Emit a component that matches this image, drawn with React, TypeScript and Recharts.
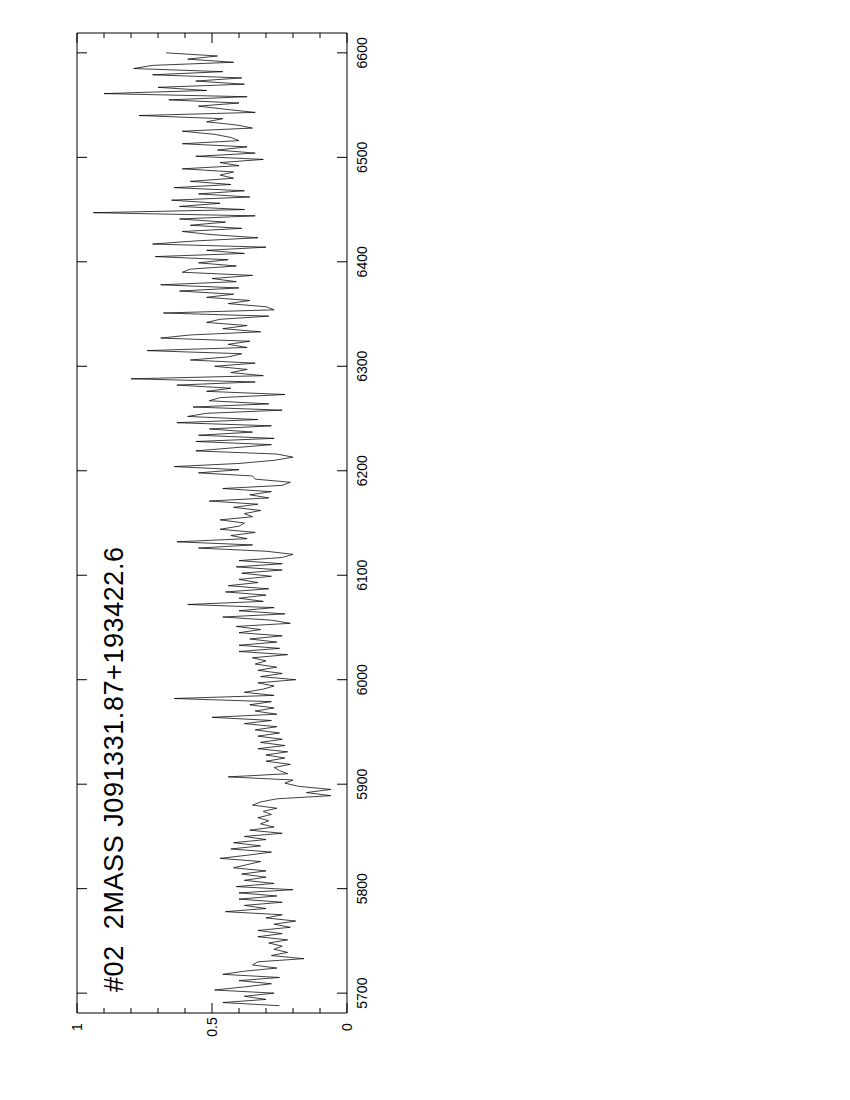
import React from "react";
import { LineChart, Line, XAxis, YAxis } from "recharts";

// Wavelength grid (Angstrom), descending from 6600 in 3 A steps
const WL_START = 6600;
const WL_STEP = 3;

// Normalised flux, from 6600 A down to 5688 A
const FLUX_6600_6519 = [
  0.67, 0.48, 0.59, 0.42, 0.72, 0.79, 0.46, 0.72, 0.39, 0.56,
  0.38, 0.7, 0.52, 0.9, 0.37, 0.66, 0.4, 0.55, 0.45, 0.34,
  0.77, 0.46, 0.52, 0.41, 0.35, 0.61, 0.49, 0.43,
];
const FLUX_6516_6417 = [
  0.4, 0.61, 0.37, 0.48, 0.34, 0.56, 0.31, 0.47, 0.4, 0.61,
  0.42, 0.47, 0.42, 0.58, 0.43, 0.64, 0.38, 0.55, 0.36, 0.65,
  0.47, 0.62, 0.38, 0.94, 0.34, 0.62, 0.45, 0.58, 0.39, 0.61,
  0.5, 0.33, 0.56, 0.72,
];
const FLUX_6414_6318 = [
  0.3, 0.52, 0.38, 0.71, 0.44, 0.55, 0.41, 0.58, 0.61, 0.35,
  0.5, 0.41, 0.69, 0.4, 0.62, 0.42, 0.52, 0.36, 0.44, 0.3,
  0.27, 0.68, 0.29, 0.47, 0.52, 0.37, 0.46, 0.32, 0.58, 0.69,
  0.36, 0.44, 0.37,
];
const FLUX_6315_6216 = [
  0.74, 0.39, 0.44, 0.58, 0.34, 0.49, 0.37, 0.43, 0.31, 0.8,
  0.34, 0.63, 0.43, 0.52, 0.23, 0.47, 0.51, 0.29, 0.57, 0.24,
  0.52, 0.59, 0.33, 0.63, 0.28, 0.51, 0.35, 0.55, 0.27, 0.56,
  0.28, 0.42, 0.56, 0.26,
];
const FLUX_6213_6117 = [
  0.2, 0.27, 0.4, 0.64, 0.4, 0.55, 0.35, 0.34, 0.21, 0.24,
  0.46, 0.28, 0.36, 0.29, 0.51, 0.33, 0.42, 0.32, 0.38, 0.35,
  0.47, 0.38, 0.4, 0.47, 0.34, 0.43, 0.37, 0.63, 0.35, 0.55,
  0.3, 0.2, 0.24,
];
const FLUX_6114_6018 = [
  0.4, 0.24, 0.41, 0.24, 0.39, 0.28, 0.4, 0.33, 0.44, 0.29,
  0.45, 0.3, 0.4, 0.31, 0.59, 0.27, 0.4, 0.23, 0.46, 0.28,
  0.21, 0.41, 0.32, 0.4, 0.24, 0.36, 0.26, 0.4, 0.25, 0.4,
  0.22, 0.35, 0.3,
];
const FLUX_6015_5916 = [
  0.34, 0.26, 0.33, 0.24, 0.32, 0.19, 0.33, 0.27, 0.31, 0.38,
  0.27, 0.64, 0.28, 0.36, 0.27, 0.34, 0.26, 0.5, 0.28, 0.38,
  0.26, 0.34, 0.25, 0.33, 0.24, 0.32, 0.23, 0.33, 0.22, 0.3,
  0.23, 0.3, 0.21, 0.27,
];
const FLUX_5913_5817 = [
  0.25, 0.22, 0.44, 0.2, 0.23, 0.18, 0.06, 0.15, 0.06, 0.26,
  0.32, 0.35, 0.26, 0.31, 0.28, 0.33, 0.29, 0.32, 0.27, 0.36,
  0.24, 0.38, 0.3, 0.42, 0.32, 0.43, 0.28, 0.37, 0.47, 0.32,
  0.37, 0.42, 0.3,
];
const FLUX_5814_5715 = [
  0.39, 0.3, 0.38, 0.27, 0.41, 0.2, 0.4, 0.26, 0.4, 0.24,
  0.38, 0.3, 0.45, 0.24, 0.3, 0.19, 0.27, 0.21, 0.33, 0.24,
  0.33, 0.22, 0.29, 0.24, 0.27, 0.22, 0.28, 0.16, 0.33, 0.35,
  0.26, 0.38, 0.46, 0.25,
];
const FLUX_5712_5688 = [0.4, 0.28, 0.38, 0.49, 0.27, 0.38, 0.3, 0.46, 0.25];

const FLUX = [
  ...FLUX_6600_6519,
  ...FLUX_6516_6417,
  ...FLUX_6414_6318,
  ...FLUX_6315_6216,
  ...FLUX_6213_6117,
  ...FLUX_6114_6018,
  ...FLUX_6015_5916,
  ...FLUX_5913_5817,
  ...FLUX_5814_5715,
  ...FLUX_5712_5688,
];

const WL_TICKS = [5700, 5800, 5900, 6000, 6100, 6200, 6300, 6400, 6500, 6600];
const FLUX_TICKS = [0, 0.1, 0.2, 0.3, 0.4, 0.5, 0.6, 0.7, 0.8, 0.9, 1];
const FLUX_LABELS: Record<string, string> = { "0": "0", "0.5": "0.5", "1": "1" };
const TITLE = "#02  2MASS J091331.87+193422.6";

const data = FLUX.map((f, i) => ({ wl: WL_START - i * WL_STEP, flux: f }));

const W = 400;
const H = 1060;
const PLOT = { left: 69, top: 25, right: 339, bottom: 1005 };
const FONT = "'Liberation Sans', Arial, Helvetica, sans-serif";

const isMajorFlux = (v: number) => Math.abs(v) < 1e-6 || Math.abs(v - 0.5) < 1e-6 || Math.abs(v - 1) < 1e-6;

const BottomTick = (props: any) => {
  const { x, payload } = props;
  const v = payload.value as number;
  const major = isMajorFlux(v);
  const key = String(Math.round(v * 10) / 10);
  return (
    <g>
      <line x1={x} x2={x} y1={PLOT.bottom} y2={PLOT.bottom - (major ? 10 : 5)} stroke="#000" strokeWidth={1} />
      {major && (
        <text
          transform={`translate(${x + 5},${PLOT.bottom + 14}) rotate(-90)`}
          textAnchor="middle"
          fontSize={14}
          fontFamily={FONT}
          fill="#000"
        >
          {FLUX_LABELS[key]}
        </text>
      )}
    </g>
  );
};

const TopTick = (props: any) => {
  const { x, payload } = props;
  const v = payload.value as number;
  const major = isMajorFlux(v);
  return <line x1={x} x2={x} y1={PLOT.top} y2={PLOT.top + (major ? 10 : 5)} stroke="#000" strokeWidth={1} />;
};

const RightTick = (props: any) => {
  const { y, payload } = props;
  return (
    <g>
      <line x1={PLOT.right} x2={PLOT.right - 10} y1={y} y2={y} stroke="#000" strokeWidth={1} />
      <text
        transform={`translate(${PLOT.right + 20},${y}) rotate(-90)`}
        textAnchor="middle"
        fontSize={14}
        fontFamily={FONT}
        fill="#000"
      >
        {payload.value}
      </text>
    </g>
  );
};

const LeftTick = (props: any) => {
  const { y } = props;
  return <line x1={PLOT.left} x2={PLOT.left + 10} y1={y} y2={y} stroke="#000" strokeWidth={1} />;
};

export default function App() {
  return (
    <div style={{ position: "relative", width: W, height: H, background: "#fff" }}>
      <LineChart
        layout="vertical"
        width={W}
        height={H}
        data={data}
        margin={{ top: PLOT.top - 1, right: 0, bottom: 0, left: PLOT.left - 1 }}
      >
        <XAxis
          type="number"
          domain={[0, 1]}
          reversed
          allowDataOverflow
          ticks={FLUX_TICKS}
          orientation="bottom"
          height={H - PLOT.bottom}
          axisLine={{ stroke: "#000", strokeWidth: 1 }}
          tickLine={false}
          tick={<BottomTick />}
          interval={0}
        />
        <XAxis
          xAxisId="top"
          type="number"
          domain={[0, 1]}
          reversed
          allowDataOverflow
          ticks={FLUX_TICKS}
          orientation="top"
          height={1}
          axisLine={{ stroke: "#000", strokeWidth: 1 }}
          tickLine={false}
          tick={<TopTick />}
          interval={0}
        />
        <YAxis
          type="number"
          dataKey="wl"
          domain={[5681, 6619]}
          reversed
          allowDataOverflow
          ticks={WL_TICKS}
          orientation="right"
          width={W - PLOT.right}
          axisLine={{ stroke: "#000", strokeWidth: 1 }}
          tickLine={false}
          tick={<RightTick />}
          interval={0}
        />
        <YAxis
          yAxisId="left"
          type="number"
          dataKey="wl"
          domain={[5681, 6619]}
          reversed
          allowDataOverflow
          ticks={WL_TICKS}
          orientation="left"
          width={1}
          axisLine={{ stroke: "#000", strokeWidth: 1 }}
          tickLine={false}
          tick={<LeftTick />}
          interval={0}
        />
        <Line
          dataKey="flux"
          type="linear"
          stroke="#000"
          strokeWidth={0.75}
          dot={false}
          activeDot={false}
          isAnimationActive={false}
        />
      </LineChart>
      <svg
        width={W}
        height={H}
        style={{ position: "absolute", left: 0, top: 0, pointerEvents: "none" }}
      >
        <text
          transform={`translate(115,984) rotate(-90)`}
          textAnchor="start"
          fontSize={27}
          fontFamily={FONT}
          fill="#000"
          textLength={445}
          lengthAdjust="spacing"
          xmlSpace="preserve"
          style={{ whiteSpace: "pre" }}
        >
          {TITLE}
        </text>
      </svg>
    </div>
  );
}
